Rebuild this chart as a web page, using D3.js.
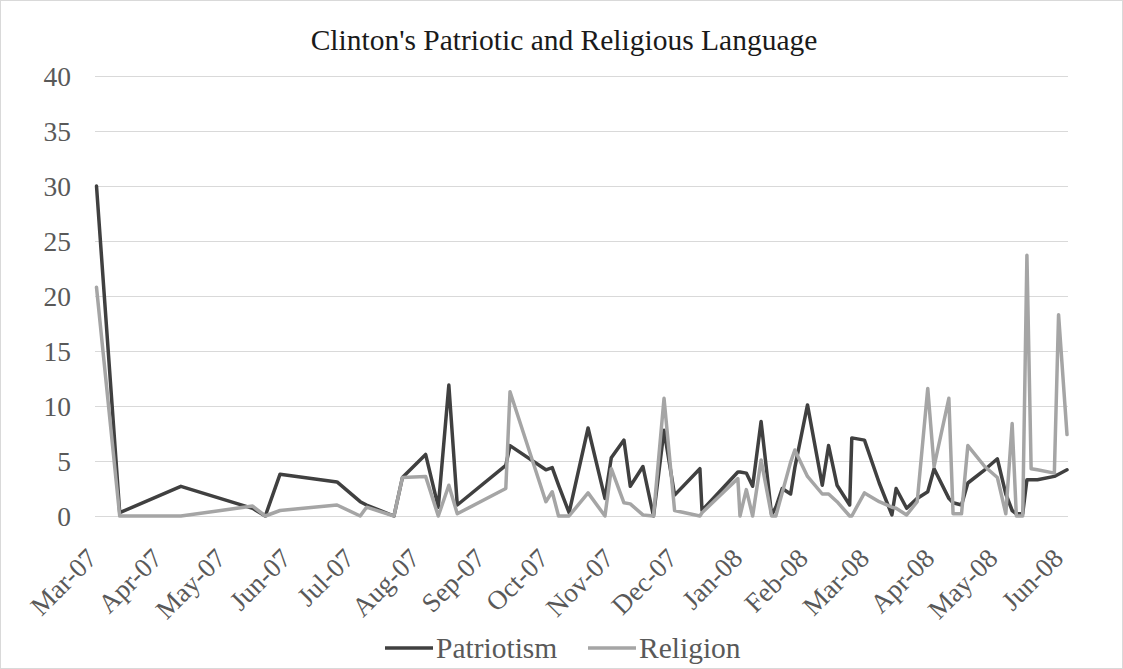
<!DOCTYPE html>
<html><head><meta charset="utf-8">
<script src="https://cdn.jsdelivr.net/npm/d3@7"></script>
<style>body{margin:0;background:#fff} svg{display:block}</style>
</head><body><svg id="chart" width="1123" height="669"></svg>
<script>
const dates = ["2007-03-05","2007-03-16","2007-04-14","2007-05-18","2007-05-24","2007-05-31","2007-06-27","2007-07-08","2007-07-11","2007-07-24",
"2007-07-28","2007-08-08","2007-08-14","2007-08-19","2007-08-23","2007-09-15","2007-09-17","2007-10-04","2007-10-07","2007-10-10",
"2007-10-15","2007-10-24","2007-11-01","2007-11-04","2007-11-10","2007-11-13","2007-11-19","2007-11-24","2007-11-29","2007-12-04",
"2007-12-16","2007-12-17","2008-01-03","2008-01-04","2008-01-07","2008-01-10","2008-01-14","2008-01-19","2008-01-21","2008-01-24",
"2008-01-28","2008-01-30","2008-02-05","2008-02-12","2008-02-15","2008-02-19","2008-02-25","2008-02-26","2008-03-03","2008-03-10",
"2008-03-16","2008-03-18","2008-03-23","2008-03-28","2008-04-02","2008-04-05","2008-04-12","2008-04-14","2008-04-18","2008-04-21",
"2008-04-29","2008-05-05","2008-05-09","2008-05-12","2008-05-14","2008-05-17","2008-05-19","2008-05-21","2008-05-24","2008-06-01",
"2008-06-03","2008-06-07"];
const patriotism = [30,0.3,2.7,0.7,0,3.8,3.1,1.3,1.0,0,
3.5,5.6,0.8,11.9,1.0,4.6,6.4,4.2,4.4,2.8,
0.3,8.0,1.6,5.3,6.9,2.7,4.5,0,7.8,1.9,
4.3,0.5,4.0,4.0,3.9,2.7,8.6,0.1,0.8,2.5,
2.0,4.4,10.1,2.8,6.4,2.8,1.0,7.1,6.9,3.0,
0.1,2.5,0.7,1.6,2.2,4.3,1.6,1.2,1.0,3.0,
4.2,5.2,2.0,0.5,0.2,0.2,3.3,3.3,3.3,3.6,
3.8,4.2];
const religion = [20.8,0,0,0.9,0,0.5,1.0,0,0.8,0,
3.5,3.6,0,2.8,0.2,2.5,11.3,1.3,2.2,0,
0,2.1,0,4.3,1.2,1.1,0.1,0,10.7,0.5,
0,0.3,3.4,0,2.4,0,5.1,0,0,2.1,
4.9,6.0,3.6,2.0,2.0,1.3,0,0,2.1,1.3,
0.8,0.7,0.1,1.3,11.6,4.5,10.7,0.2,0.2,6.4,
4.5,3.5,0.2,8.4,0,0,23.7,4.3,4.2,3.9,
18.3,7.4];
const yTicks = [0,5,10,15,20,25,30,35,40];
const xTickDates = ["2007-03-05","2007-04-05","2007-05-05","2007-06-05","2007-07-05","2007-08-05","2007-09-05","2007-10-05",
"2007-11-05","2007-12-05","2008-01-05","2008-02-05","2008-03-05","2008-04-05","2008-05-05","2008-06-05"];
const seriesNames = ["Patriotism","Religion"];
const seriesColors = ["#404040","#a5a5a5"];
const title = "Clinton's Patriotic and Religious Language";

const parse = d3.timeParse("%Y-%m-%d");
const fmt = d3.timeFormat("%b-%y");
const svg = d3.select("#chart");
const font = "'Liberation Serif','Times New Roman',serif";

svg.append("rect").attr("x",0.5).attr("y",0.5).attr("width",1122).attr("height",668)
  .attr("fill","#fff").attr("stroke","#d9d9d9");

const x = d3.scaleTime().domain([parse("2007-03-05"), parse("2008-06-07")]).range([96.5, 1067]);
const y = d3.scaleLinear().domain([0,40]).range([516,76]);

// gridlines
svg.append("g").selectAll("line").data(yTicks).join("line")
  .attr("x1",95).attr("x2",1068)
  .attr("y1",d=>Math.round(y(d))+0.5).attr("y2",d=>Math.round(y(d))+0.5)
  .attr("stroke","#d9d9d9").attr("stroke-width",1);

// y labels
svg.append("g").selectAll("text").data(yTicks).join("text")
  .attr("x",71).attr("y",d=>y(d)).attr("dy","0.35em")
  .attr("text-anchor","end").attr("font-family",font).attr("font-size",27.5)
  .attr("fill","#595959").text(d=>d);

// x labels
const xt = xTickDates.map(parse);
svg.append("g").selectAll("text").data(xt).join("text")
  .attr("transform",d=>`translate(${x(d)+2},${560}) rotate(-45)`)
  .attr("text-anchor","end").attr("font-family",font).attr("font-size",27)
  .attr("fill","#595959").text(d=>fmt(d));

// lines
const series = [patriotism, religion].map((vals,i)=>({
  name: seriesNames[i], color: seriesColors[i],
  pts: dates.map((d,j)=>({date: parse(d), v: vals[j]}))
}));
const line = d3.line().x(d=>x(d.date)).y(d=>y(d.v));
svg.append("g").selectAll("path").data(series).join("path")
  .attr("d",d=>line(d.pts)).attr("fill","none")
  .attr("stroke",d=>d.color).attr("stroke-width",3.5)
  .attr("stroke-linejoin","round").attr("stroke-linecap","round");

// title
svg.append("text").attr("x",564).attr("y",50).attr("text-anchor","middle")
  .attr("font-family",font).attr("font-size",29.5).attr("fill","#1a1a1a").text(title);

// legend
const lg = svg.append("g");
const legendX = [385, 588];
series.forEach((s,i)=>{
  lg.append("line").attr("x1",legendX[i]).attr("x2",legendX[i]+48)
    .attr("y1",648).attr("y2",648).attr("stroke",s.color).attr("stroke-width",3.5);
  lg.append("text").attr("x",legendX[i]+51).attr("y",648).attr("dy","0.35em")
    .attr("font-family",font).attr("font-size",29.5).attr("fill","#595959").text(s.name);
});
</script></body></html>
